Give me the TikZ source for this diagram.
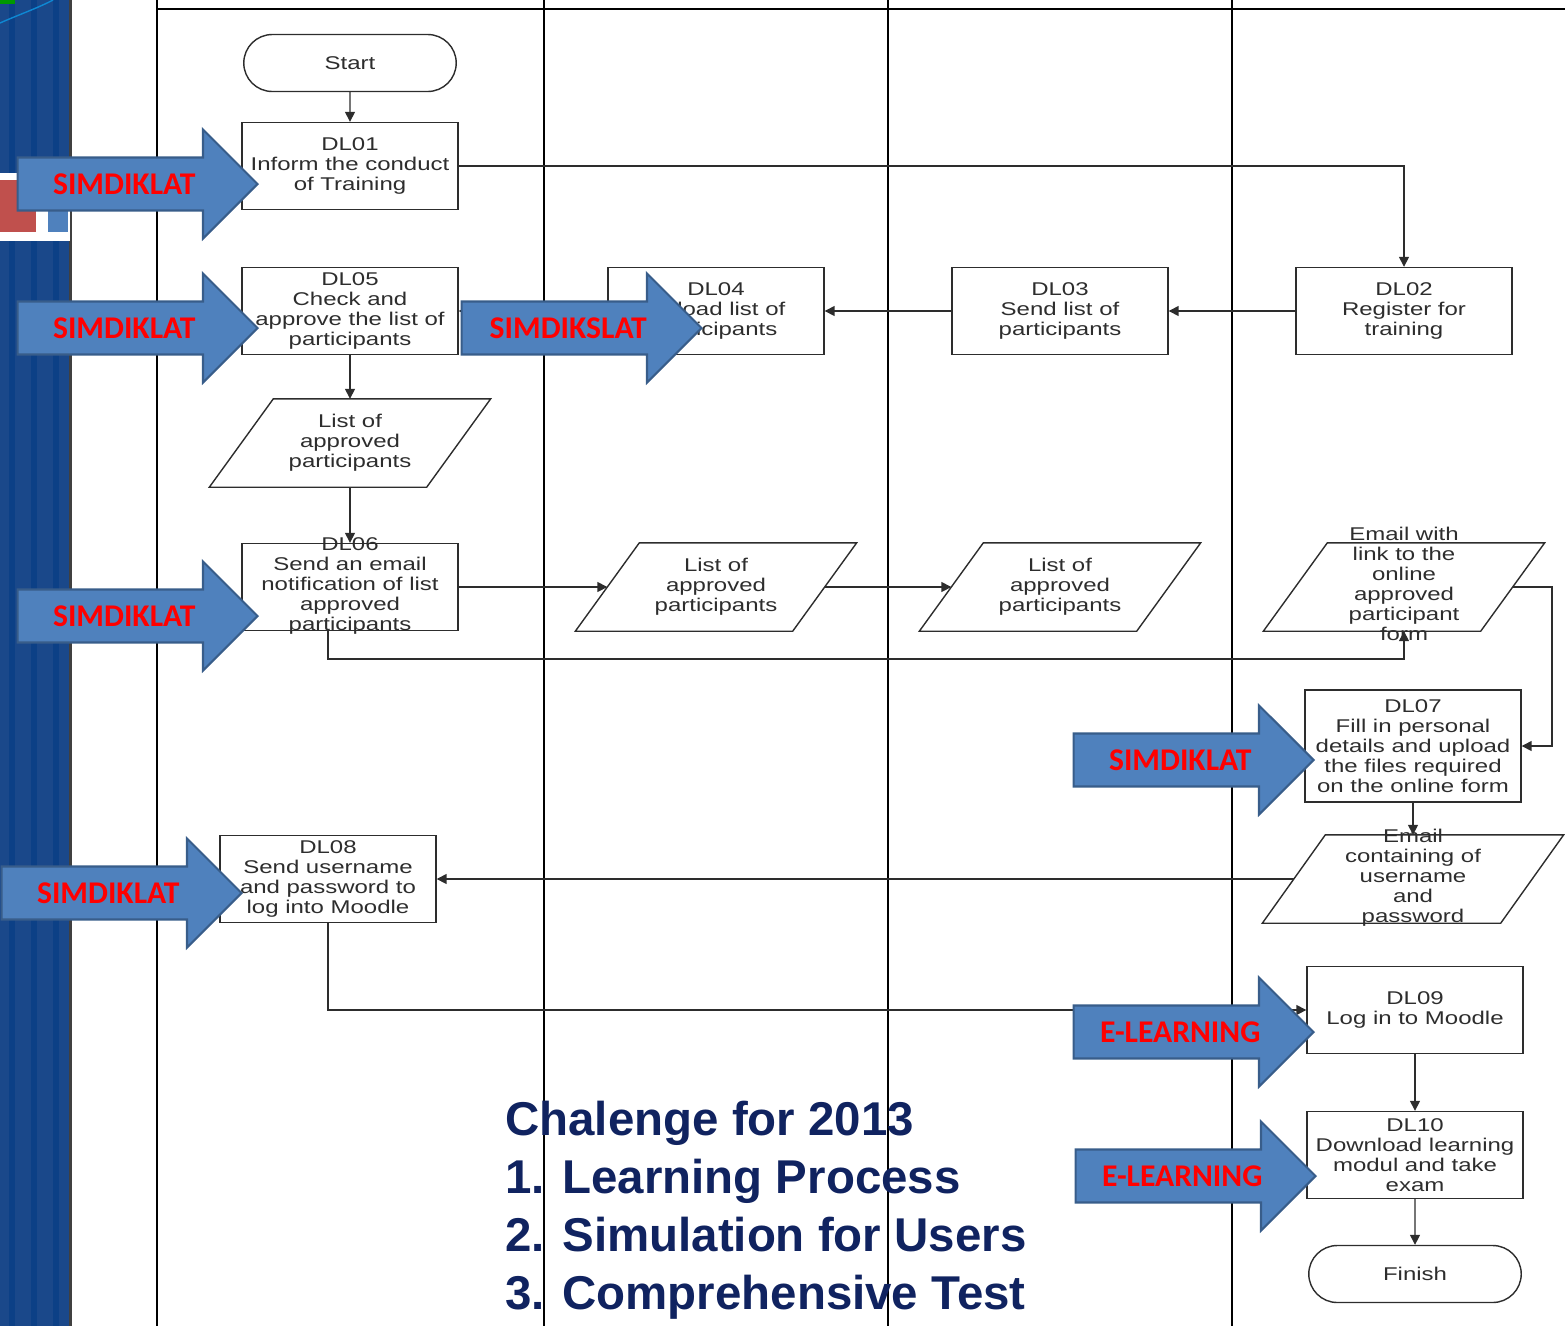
\documentclass[tikz,border=0pt]{standalone}
\usepackage{fontspec}
\usepackage{tikz}
\usetikzlibrary{positioning,arrows.meta,shapes.geometric,shapes.misc,shapes.arrows}
\newfontfamily\chartfont[FakeStretch=1.3]{Liberation Sans}
\newfontfamily\tagfont{Carlito}
\newfontfamily\notefont{Liberation Sans}
\definecolor{bandblue}{RGB}{26,72,138}
\definecolor{bandstripe}{RGB}{12,64,134}
\definecolor{arrfill}{RGB}{79,129,189}
\definecolor{arrline}{RGB}{56,93,138}
\definecolor{notenavy}{RGB}{16,35,96}
\definecolor{inkgray}{RGB}{45,45,45}
\definecolor{tilered}{RGB}{192,80,77}
% text that is taller than its box
\newcommand{\spill}[1]{\smash{\raisebox{-2.5pt}{\begin{tabular}{@{}c@{}}#1\end{tabular}}}}
\tikzset{
	%Style of the flow chart
	proc/.style = {rectangle, draw=inkgray, fill=white, line width=0.8pt,
                           minimum width=4.32cm, minimum height=1.74cm, inner sep=1pt,
                           align=center, text=inkgray,
                           font=\chartfont\fontsize{10.5}{11.4}\selectfont},
	term/.style = {proc, rounded rectangle, minimum height=1.14cm},
	doc/.style = {proc, draw=none, fill=none},
	docline/.style = {draw=inkgray, line width=0.8pt},
	flow/.style = {draw=inkgray, line width=0.8pt, -{Triangle[length=0.2cm,width=0.2cm]}},
	lane/.style = {line width=1.4pt, black},
	tag/.style = {single arrow, single arrow head extend=0.56cm, draw=arrline,
                           line width=1.2pt, fill=arrfill, text=red,
                           font=\tagfont\bfseries\fontsize{18}{20}\selectfont,
                           text height=12pt, text depth=0pt, inner ysep=8.5pt,
                           inner xsep=6pt, minimum height=4.8cm},
	note/.style = {align=left, inner sep=0pt, text=notenavy,
                           font=\notefont\bfseries\fontsize{27}{32.9}\selectfont}
}
\begin{document}
\begin{tikzpicture}[x=0.02cm, y=-0.02cm]
	\useasboundingbox (0,0) rectangle (1565,1326);
	%left band
	\fill[bandblue] (0,0) rectangle (70,1326);
	\foreach \sx in {9,31,53}
		\fill[bandstripe] (\sx,0) rectangle ++(6,1326);
	\fill[black!75] (69,0) rectangle (72,1326);
	\fill[green!60!black] (0,0) rectangle (15,4);
	\draw[cyan!70!blue, line width=0.8pt] (0,23) .. controls (18,15) and (38,8) .. (53,0);
	\fill[white] (0,173) rectangle (70,241);
	\fill[tilered] (0,180) rectangle (36,232);
	\fill[arrfill] (48,180) rectangle (68,232);

	%lanes
	\draw[lane, line width=1pt] (157,9) -- (1565,9);
	\foreach \lx in {157,544,888,1232}
		\draw[lane] (\lx,0) -- (\lx,1326);

	%nodes
	\node[term] (start)  at (350,63)  {Start};
	\node[proc] (dl01)   at (350,166) {DL01\\Inform the conduct\\of Training};
	\node[proc] (dl02)   at (1404,311) {DL02\\Register for\\training};
	\node[proc] (dl03)   at (1060,311) {DL03\\Send list of\\participants};
	\node[proc] (dl04)   at (716,311) {DL04\\Upload list of\\participants};
	\node[proc] (dl05)   at (350,311) {DL05\\Check and\\approve the list of\\participants};
	\node[doc]  (list1)  at (350,443) {List of\\approved\\participants};
	\node[proc] (dl06)   at (350,587) {\spill{DL06\\Send an email\\notification of list\\approved\\participants}};
	\node[doc]  (list2)  at (716,587) {List of\\approved\\participants};
	\node[doc]  (list3)  at (1060,587) {List of\\approved\\participants};
	\node[doc]  (list4)  at (1404,587) {\spill{Email with\\link to the\\online\\approved\\participant\\form}};
	\node[proc, minimum height=2.24cm] (dl07) at (1413,746)
		{DL07\\Fill in personal\\details and upload\\the files required\\on the online form};
	\node[doc, minimum width=4.74cm] (list5) at (1413,879)
		{\spill{Email\\containing of\\username\\and\\password}};
	\node[proc] (dl08)   at (328,879) {DL08\\Send username\\and password to\\log into Moodle};
	\node[proc] (dl09)   at (1415,1010) {DL09\\Log in to Moodle};
	\node[proc] (dl10)   at (1415,1155) {DL10\\Download learning\\modul and take\\exam};
	\node[term] (finish) at (1415,1274) {Finish};

	%slanted sides of the lists
	\foreach \d/\s in {list1/0.64,list2/0.64,list3/0.64,list4/0.64,list5/0.63}
		\draw[docline] ([xshift=-\s cm]\d.south west) -- ([xshift=\s cm]\d.north west)
			-- ([xshift=\s cm]\d.north east) -- ([xshift=-\s cm]\d.south east) -- cycle;

	%arrows
	\draw[flow] (start) -- (dl01);
	\draw[flow] (dl01) -| (dl02);
	\draw[flow] (dl02) -- (dl03);
	\draw[flow] (dl03) -- (dl04);
	\draw[flow] (dl04) -- (dl05);
	\draw[flow] (dl05) -- (list1);
	\draw[flow] (list1) -- (dl06);
	\draw[flow] (dl06) -- (list2);
	\draw[flow] (list2) -- (list3);
	\draw[flow] ([xshift=-0.44cm]dl06.south) |- ([yshift=-1.44cm]list4.center) -- (list4);
	\draw[flow] (list4) -- ++(2.96cm,0) |- (dl07);
	\draw[flow] (dl07) -- (list5);
	\draw[flow] (list5) -- (dl08);
	\draw[flow] (dl08) |- (dl09);
	\draw[flow] (dl09) -- (dl10);
	\draw[flow] (dl10) -- (finish);

	%challenge
	\node[note, anchor=north west] (challenge) at (505,1101)
		{Chalenge for 2013\\1. Learning Process\\2. Simulation for Users\\3. Comprehensive Test};

	%block arrows
	\node[tag, anchor=tip] (tag1) at (259,184)  {SIMDIKLAT};
	\node[tag, anchor=tip] (tag2) at (259,328)  {SIMDIKLAT};
	\node[tag, anchor=tip] (tag3) at (703,328)  {SIMDIKSLAT};
	\node[tag, anchor=tip] (tag4) at (259,616)  {SIMDIKLAT};
	\node[tag, anchor=tip] (tag5) at (1315,760) {SIMDIKLAT};
	\node[tag, anchor=tip] (tag6) at (243,893)  {SIMDIKLAT};
	\node[tag, anchor=tip] (tag7) at (1315,1032) {E-LEARNING};
	\node[tag, anchor=tip] (tag8) at (1317,1176) {E-LEARNING};
\end{tikzpicture}
\end{document}
